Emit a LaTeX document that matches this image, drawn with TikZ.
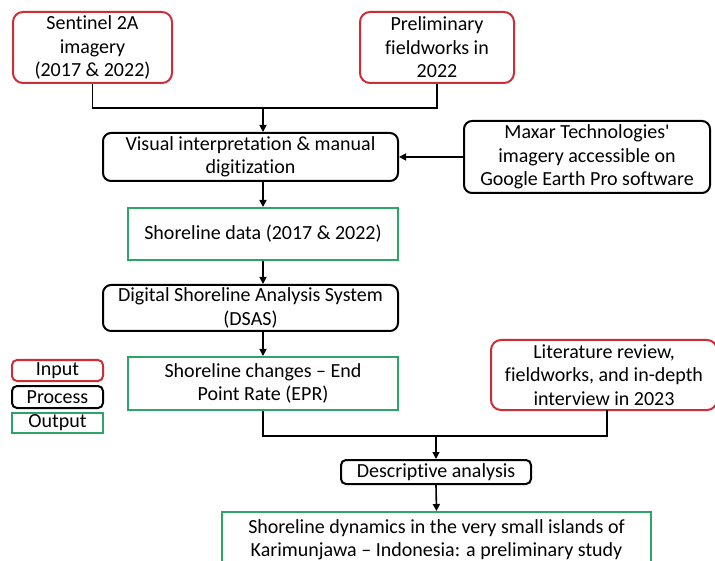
\documentclass[tikz,border=0pt]{standalone}
\usepackage{fontspec}
\setmainfont{Carlito}[Ligatures=NoCommon]
\usetikzlibrary{arrows.meta}
\definecolor{inred}{RGB}{204,45,55}
\definecolor{outgreen}{RGB}{45,165,105}
\tikzset{
  base/.style={draw, line width=2pt, align=center, inner sep=0pt, font=\fontsize{20}{23.5}\selectfont},
  inbox/.style={base, draw=inred, rounded corners=10pt},
  procbox/.style={base, draw=black, rounded corners=8pt},
  outbox/.style={base, draw=outgreen},
  conn/.style={line width=1.6pt},
  arr/.style={conn, -{Triangle[length=7pt,width=7pt]}},
}
\begin{document}
\begin{tikzpicture}[x=1pt,y=-1pt]
\useasboundingbox (0,0) rectangle (715,561);
\clip (0,0) rectangle (715,561);
\fill[white] (0,0) rectangle (715,561);
% inputs
\node[inbox, minimum width=159pt, minimum height=71pt] (sent) at (92.5,47.5) {Sentinel 2A\\imagery\\(2017 \& 2022)};
\node[inbox, minimum width=154pt, minimum height=71pt] (prel) at (437,47.5) {Preliminary\\fieldworks in\\2022};
\node[procbox, minimum width=295pt, minimum height=48pt] (vis) at (250.5,157) {Visual interpretation \& manual\\digitization};
\node[procbox, minimum width=246pt, minimum height=72pt] (maxar) at (587,157) {Maxar Technologies\textquotesingle\\imagery accessible on\\Google Earth Pro software};
\node[outbox, minimum width=270pt, minimum height=52pt] (shd) at (263,234) {Shoreline data (2017 \& 2022)};
\node[procbox, minimum width=295pt, minimum height=46pt] (dsas) at (250.5,308) {Digital Shoreline Analysis System\\(DSAS)};
\node[outbox, minimum width=270pt, minimum height=53pt] (shc) at (263,383.5) {Shoreline changes -- End\\Point Rate (EPR)};
\node[inbox, minimum width=226pt, minimum height=70pt] (lit) at (604,375) {Literature review,\\fieldworks, and in-depth\\interview in 2023};
\node[procbox, minimum width=190pt, minimum height=24pt, rounded corners=5pt] (desc) at (436,472) {Descriptive analysis};
\node[outbox, minimum width=429pt, minimum height=62pt, anchor=north] (fin) at (436.5,511) {};
\node[align=center, font=\fontsize{20}{23.5}\selectfont, anchor=north] (fintext) at (436.5,516) {Shoreline dynamics in the very small islands of\\Karimunjawa -- Indonesia: a preliminary study};
% legend
\node[inbox, rounded corners=5pt, minimum width=91pt, minimum height=21pt] (lin) at (57.5,370.5) {Input};
\node[procbox, rounded corners=5pt, minimum width=91pt, minimum height=22pt] (lpr) at (57.5,397) {Process};
\node[outbox, minimum width=91pt, minimum height=20pt] (lout) at (57.5,423) {Output};
% connectors
\coordinate (j1) at (263,108);
\draw[conn] (sent.south) |- (j1) -| (prel.south);
\draw[arr] (j1) -- (j1 |- vis.north);
\draw[arr] (maxar.west) -- (vis.east);
\draw[arr] (vis.south -| shd.north) -- (shd.north);
\draw[arr] (shd.south) -- (shd.south |- dsas.north);
\draw[arr] (shd.south |- dsas.south) -- (shc.north);
\coordinate (j2) at (436,436);
\draw[conn] (shc.south) |- (j2) -| (607,410);
\draw[arr] (j2) -- (desc.north);
\draw[arr] (desc.south) -- (fin.north);
\end{tikzpicture}
\end{document}
